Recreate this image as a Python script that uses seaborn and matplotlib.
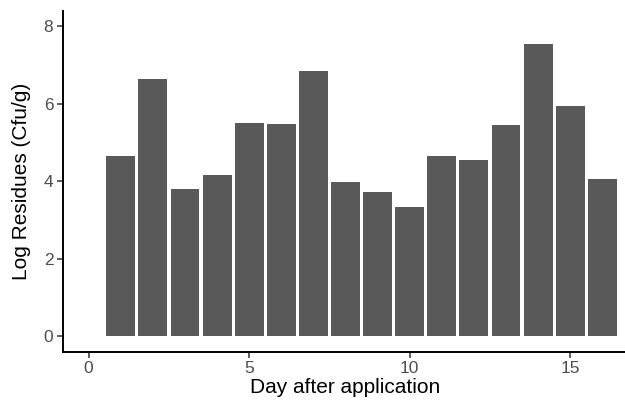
import matplotlib
matplotlib.use("Agg")
import matplotlib.pyplot as plt
import seaborn as sns
import pandas as pd

days = list(range(1, 17))
residues = [4.66, 6.65, 3.80, 4.17, 5.51, 5.49, 6.85, 3.98, 3.73, 3.35,
            4.66, 4.55, 5.45, 7.55, 5.95, 4.05]
x_ticks = [0, 5, 10, 15]
y_ticks = [0, 2, 4, 6, 8]

df = pd.DataFrame({"day": days, "res": residues})

sns.set_style("white")
plt.rcParams['font.family'] = ['Liberation Sans', 'DejaVu Sans']

fig = plt.figure(figsize=(6.25, 4.05), dpi=100)
W, H = 625, 405
left, right, top, bottom = 63, 628, 11, 351.7
ax = fig.add_axes([left / W, (H - bottom) / H, (right - left) / W, (bottom - top) / H])

sns.barplot(data=df, x="day", y="res", native_scale=True, width=0.9,
            color="#595959", saturation=1, edgecolor="none", ax=ax)

ax.set_xlim(-0.8, 16.8)
ax.set_ylim(-0.4, 8.4)
ax.set_xticks(x_ticks)
ax.set_yticks(y_ticks)
ax.set_xticklabels([str(v) for v in x_ticks])
ax.set_yticklabels([str(v) for v in y_ticks])

for s in ["top", "right"]:
    ax.spines[s].set_visible(False)
for s in ["left", "bottom"]:
    ax.spines[s].set_color("black")
    ax.spines[s].set_linewidth(1.4)

ax.tick_params(axis="both", which="major", length=4, width=1.1, color="#333333",
               labelcolor="#4D4D4D", labelsize=12.5, pad=3, direction="out",
               bottom=True, left=True)

ax.set_xlabel("Day after application", fontsize=15, color="black", labelpad=1)
ax.set_ylabel("Log Residues (Cfu/g)", fontsize=15, color="black", labelpad=9)
ax.grid(False)

fig.savefig("out.png", dpi=100)
